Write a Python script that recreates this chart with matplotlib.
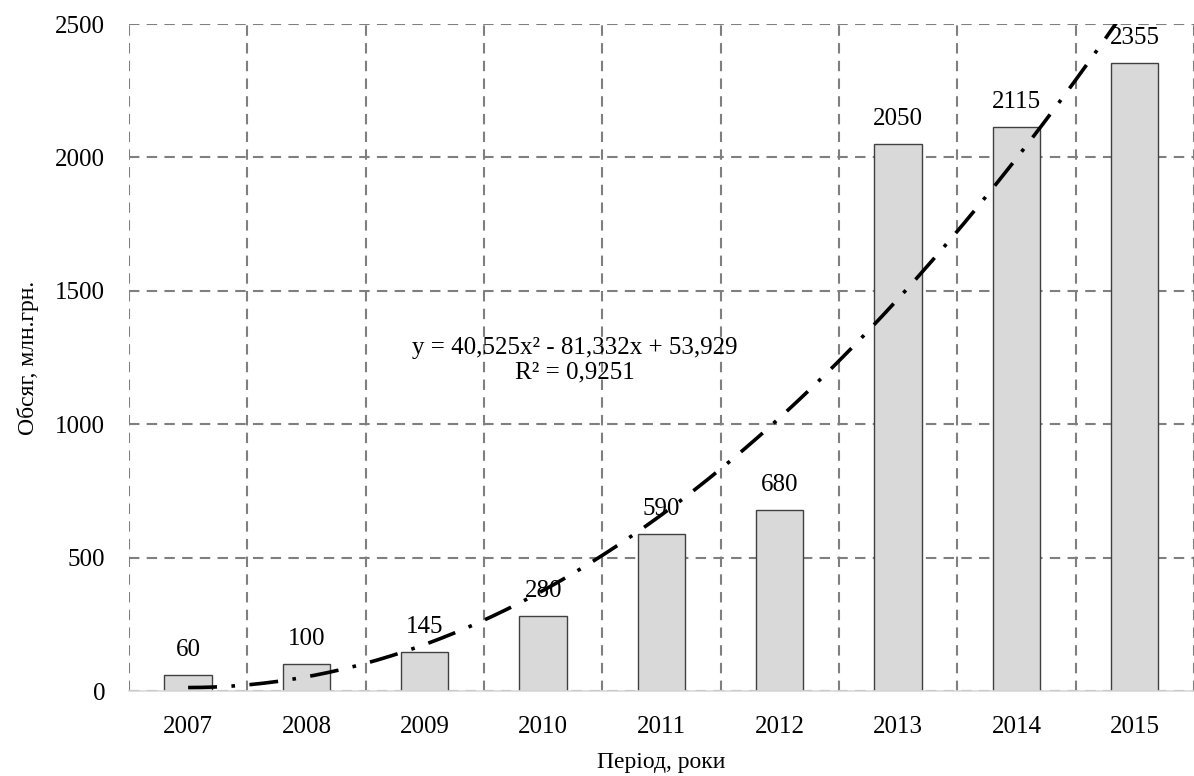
import numpy as np
import matplotlib.pyplot as plt

plt.rcParams['font.family'] = ['Liberation Serif', 'DejaVu Serif']

years = ['2007', '2008', '2009', '2010', '2011', '2012', '2013', '2014', '2015']
values = [60, 100, 145, 280, 590, 680, 2050, 2115, 2355]
equation = 'y = 40,525x² - 81,332x + 53,929\nR² = 0,9251'

fig = plt.figure(figsize=(11.94, 7.76), dpi=100)
ax = fig.add_axes([0.108, 0.1095, 0.892, 0.8595])

idx = np.arange(len(years))
ax.bar(idx, values, width=0.4, color='#d9d9d9', edgecolor='#404040', linewidth=1.0, zorder=2)

# value labels above bars
for i, v in zip(idx, values):
    ax.annotate(str(v), (i, v), xytext=(0, 18), textcoords='offset points',
                ha='center', va='center', fontsize=18, zorder=4)

# polynomial trend (order 2) fitted on x = 1..n like Excel
coef = np.polyfit(idx + 1, values, 2)
xs = np.linspace(0, len(years) - 1, 300)
ax.plot(xs, np.polyval(coef, xs + 1), color='black', linewidth=2.6,
        linestyle=(0, (8, 4, 1, 4)), zorder=3)

ax.text(3.27, 1240, equation, ha='center', va='center', fontsize=18, linespacing=1.1)

ax.set_xlim(-0.5, 8.445)
ax.set_ylim(0, 2500)
ax.set_yticks(np.arange(0, 2501, 500))
ax.set_xticks(idx)
ax.set_xticklabels(years)
ax.set_xticks(np.arange(-0.5, 9, 1), minor=True)

ax.grid(True, axis='y', which='major', color='#7f7f7f', linestyle=(0, (5, 3.5)), linewidth=1.5, zorder=0)
ax.grid(True, axis='x', which='minor', color='#7f7f7f', linestyle=(0, (5, 3.5)), linewidth=1.5, zorder=0)
ax.tick_params(axis='both', which='both', length=0, labelsize=18)
ax.tick_params(axis='y', pad=17)
ax.tick_params(axis='x', pad=18)

for s in ['top', 'right', 'left']:
    ax.spines[s].set_visible(False)
ax.spines['bottom'].set_color('#d9d9d9')
ax.spines['bottom'].set_linewidth(1.2)

ax.set_xlabel('Період, роки', fontsize=17, labelpad=10)
ax.set_ylabel('Обсяг, млн.грн.', fontsize=17, labelpad=12)

plt.savefig('out.png', dpi=100)
